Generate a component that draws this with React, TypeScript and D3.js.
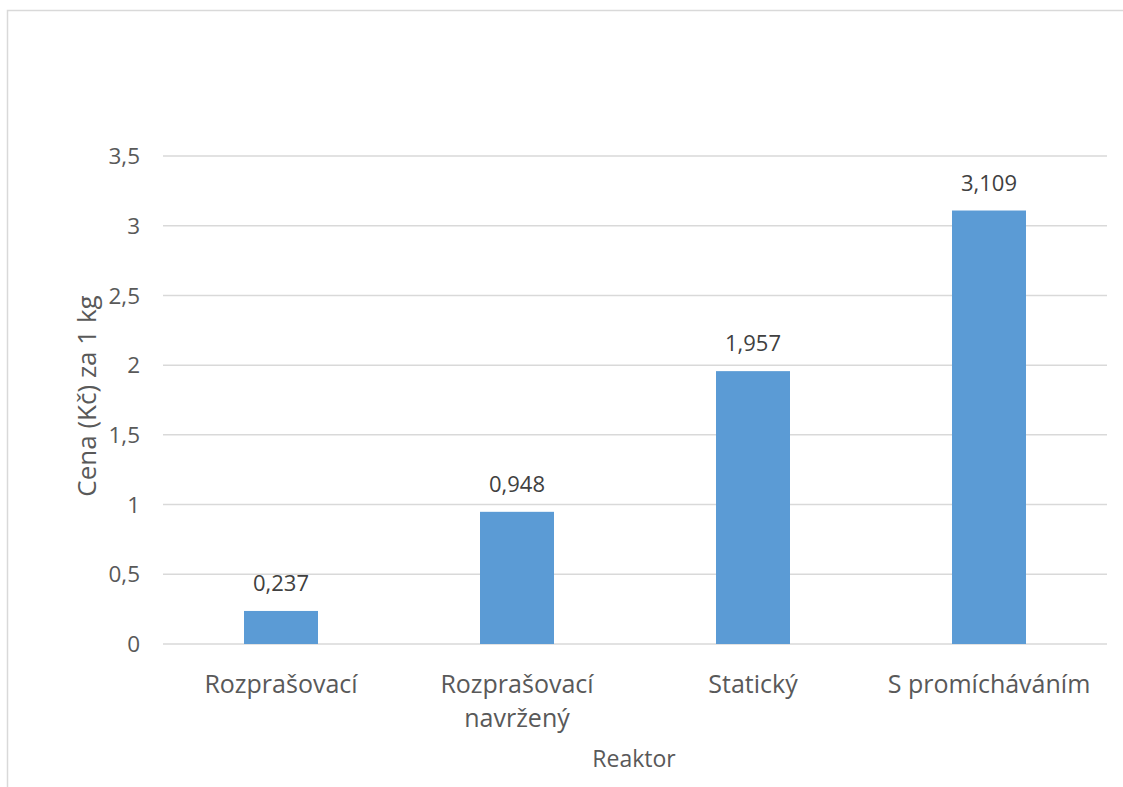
import React from "react";
import * as d3 from "d3";

const categories: string[][] = [["Rozprašovací"], ["Rozprašovací", "navržený"], ["Statický"], ["S promícháváním"]];
const values: number[] = [0.237, 0.948, 1.957, 3.109];
const valueLabels: string[] = ["0,237", "0,948", "1,957", "3,109"];
const yTicks: number[] = [0, 0.5, 1, 1.5, 2, 2.5, 3, 3.5];
const yTickLabels: string[] = ["0", "0,5", "1", "1,5", "2", "2,5", "3", "3,5"];
const yTitle = "Cena (Kč) za 1 kg";
const xTitle = "Reaktor";

export default function App() {
  const W = 1123, H = 787;
  const left = 163, right = 1107, top = 156, bottom = 644;
  const x = d3.scaleBand<number>().domain(d3.range(values.length)).range([left, right]);
  const y = d3.scaleLinear().domain([0, 3.5]).range([bottom, top]);
  const font = "'Open Sans', 'Liberation Sans', sans-serif";
  const barW = 74;
  return (
    <svg width={W} height={H} style={{ position: "absolute", left: 0, top: 0 }}>
      <rect x={0} y={0} width={W} height={H} fill="#fff" />
      <rect x={7.5} y={10.5} width={W + 10} height={H + 10} fill="none" stroke="#d9d9d9" strokeWidth={1.5} />
      {yTicks.map((t, i) => (
        <g key={i}>
          <line x1={left} x2={right} y1={y(t)} y2={y(t)} stroke="#d9d9d9" strokeWidth={1.5} />
          <text x={140} y={y(t)} dy="0.36em" textAnchor="end" fontFamily={font} fontSize={22.5} fill="#595959">{yTickLabels[i]}</text>
        </g>
      ))}
      {values.map((v, i) => {
        const cx = (x(i) as number) + x.bandwidth() / 2;
        return (
          <g key={i}>
            <rect x={cx - barW / 2} y={y(v)} width={barW} height={bottom - y(v)} fill="#5b9bd5" />
            <text x={cx} y={y(v) - 20} textAnchor="middle" fontFamily={font} fontSize={22} fill="#404040">{valueLabels[i]}</text>
            {categories[i].map((line, j) => (
              <text key={j} x={cx} y={693 + j * 34} textAnchor="middle" fontFamily={font} fontSize={25} fill="#595959">{line}</text>
            ))}
          </g>
        );
      })}
      <text transform={`translate(96, 396) rotate(-90)`} textAnchor="middle" fontFamily={font} fontSize={26} fill="#595959">{yTitle}</text>
      <text x={634} y={767} textAnchor="middle" fontFamily={font} fontSize={23} fill="#595959">{xTitle}</text>
    </svg>
  );
}
